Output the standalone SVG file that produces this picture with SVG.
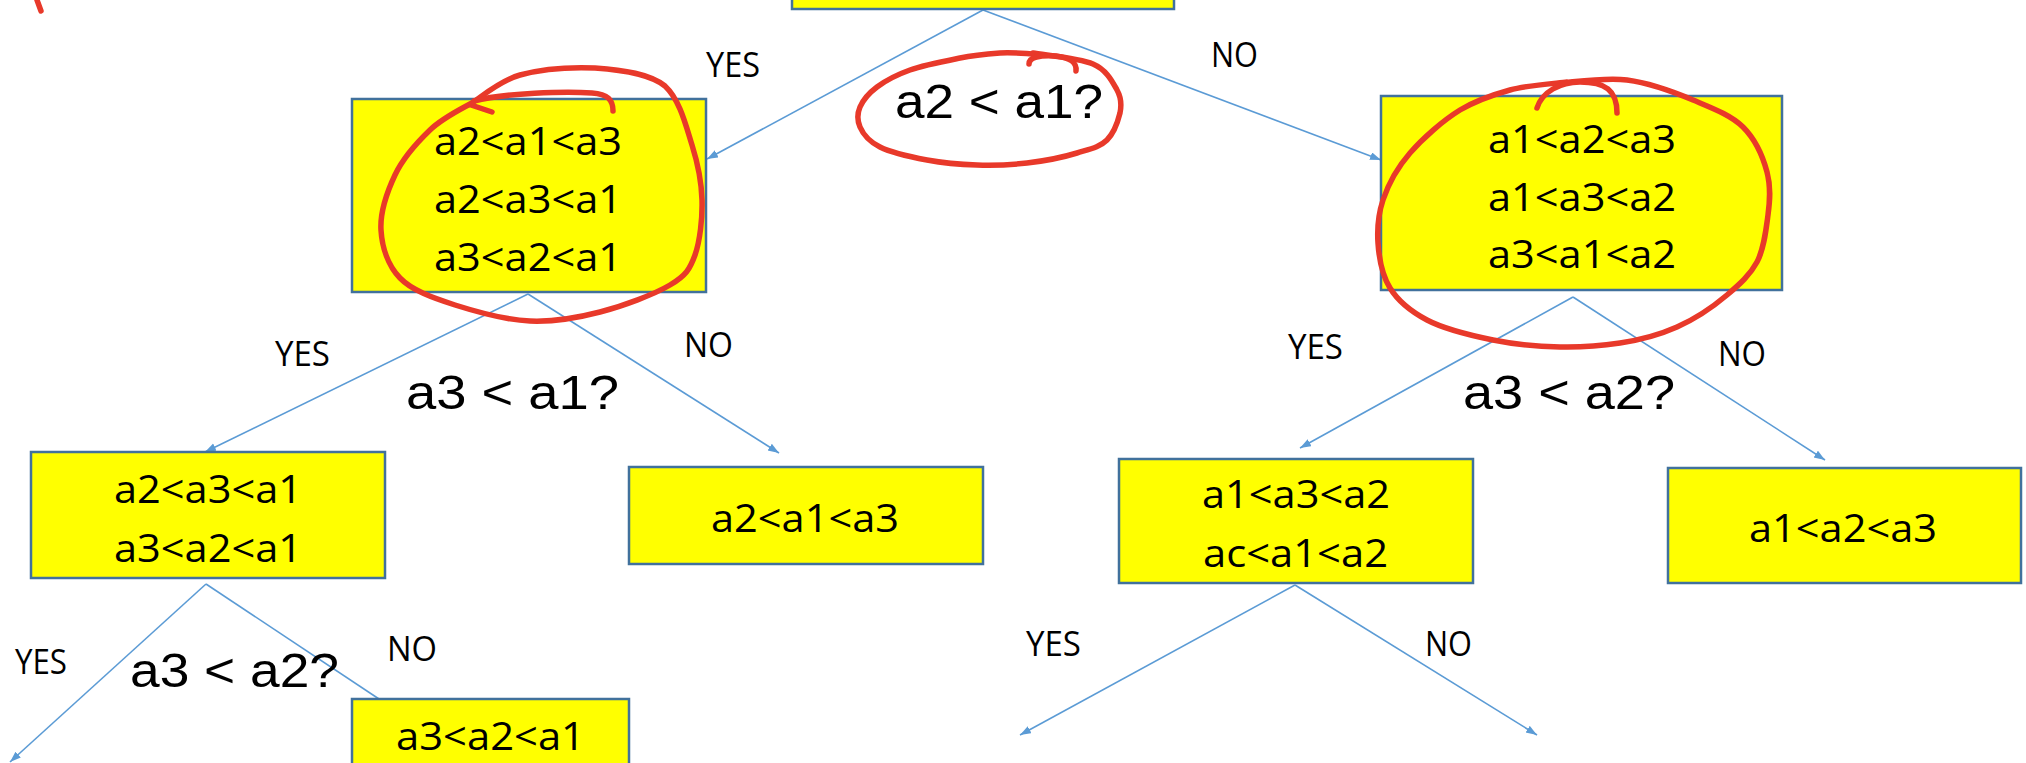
<svg xmlns="http://www.w3.org/2000/svg" width="2026" height="763" viewBox="0 0 2026 763">
  <defs>
    <marker id="arrow" markerUnits="userSpaceOnUse" markerWidth="12" markerHeight="9" refX="11" refY="4" orient="auto">
      <path d="M0,0 L11,4 L0,8 z" fill="#5B9BD5"/>
    </marker>
    <style>
      .box { fill: #FFFF00; stroke: #41719C; stroke-width: 2.5; }
      .edge { fill: none; stroke: #5B9BD5; stroke-width: 1.6; }
      .arrow { marker-end: url(#arrow); }
      .item { font-family: "Open Sans", "Liberation Sans", sans-serif; font-size: 38px; fill: #000; }
      .lbl { font-family: "Open Sans", "Liberation Sans", sans-serif; font-size: 34px; fill: #000; }
      .q { font-family: "Liberation Sans", Arial, sans-serif; font-size: 48px; fill: #000; }
      .ink { fill: none; stroke: #E8392A; stroke-width: 5.5; stroke-linecap: round; stroke-linejoin: round; }
    </style>
  </defs>

  <rect width="2026" height="763" fill="#FFFFFF"/>

  <!-- branches -->
  <g id="connectors">
    <line class="edge arrow" x1="983" y1="10" x2="707" y2="159"/>
    <line class="edge arrow" x1="983" y1="10" x2="1381" y2="160"/>
    <line class="edge arrow" x1="528" y1="294" x2="205" y2="452"/>
    <line class="edge arrow" x1="528" y1="294" x2="779" y2="453"/>
    <line class="edge arrow" x1="1573" y1="297" x2="1300" y2="448"/>
    <line class="edge arrow" x1="1573" y1="297" x2="1825" y2="460"/>
    <line class="edge arrow" x1="206" y1="584" x2="10" y2="762"/>
    <line class="edge" x1="206" y1="584" x2="379" y2="699"/>
    <line class="edge arrow" x1="1295" y1="585" x2="1020" y2="735"/>
    <line class="edge arrow" x1="1295" y1="585" x2="1537" y2="735"/>
  </g>

  <!-- branch labels -->
  <g id="labels">
    <text class="lbl" x="706" y="77" textLength="54" lengthAdjust="spacingAndGlyphs">YES</text>
    <text class="lbl" x="1211" y="67" textLength="47" lengthAdjust="spacingAndGlyphs">NO</text>
    <text class="lbl" x="275" y="366" textLength="55" lengthAdjust="spacingAndGlyphs">YES</text>
    <text class="lbl" x="684" y="357" textLength="49" lengthAdjust="spacingAndGlyphs">NO</text>
    <text class="lbl" x="1288" y="359" textLength="55" lengthAdjust="spacingAndGlyphs">YES</text>
    <text class="lbl" x="1718" y="366" textLength="48" lengthAdjust="spacingAndGlyphs">NO</text>
    <text class="lbl" x="15" y="674" textLength="52" lengthAdjust="spacingAndGlyphs">YES</text>
    <text class="lbl" x="387" y="661" textLength="50" lengthAdjust="spacingAndGlyphs">NO</text>
    <text class="lbl" x="1026" y="656" textLength="55" lengthAdjust="spacingAndGlyphs">YES</text>
    <text class="lbl" x="1425" y="656" textLength="47" lengthAdjust="spacingAndGlyphs">NO</text>
  </g>

  <!-- comparison questions -->
  <g id="questions">
    <text class="q" x="895" y="118" textLength="208" lengthAdjust="spacingAndGlyphs">a2 &lt; a1?</text>
    <text class="q" x="406" y="409" textLength="213" lengthAdjust="spacingAndGlyphs">a3 &lt; a1?</text>
    <text class="q" x="1463" y="409" textLength="212" lengthAdjust="spacingAndGlyphs">a3 &lt; a2?</text>
    <text class="q" x="130" y="687" textLength="209" lengthAdjust="spacingAndGlyphs">a3 &lt; a2?</text>
  </g>

  <!-- nodes -->
  <g id="root">
    <rect class="box" x="792" y="-30" width="382" height="39"/>
  </g>

  <g id="node-left">
    <rect class="box" x="352" y="99" width="354" height="193"/>
    <text class="item" x="434" y="155" textLength="188" lengthAdjust="spacingAndGlyphs">a2&lt;a1&lt;a3</text>
    <text class="item" x="434" y="213" textLength="188" lengthAdjust="spacingAndGlyphs">a2&lt;a3&lt;a1</text>
    <text class="item" x="434" y="271" textLength="188" lengthAdjust="spacingAndGlyphs">a3&lt;a2&lt;a1</text>
  </g>

  <g id="node-right">
    <rect class="box" x="1381" y="96" width="401" height="194"/>
    <text class="item" x="1488" y="153" textLength="188" lengthAdjust="spacingAndGlyphs">a1&lt;a2&lt;a3</text>
    <text class="item" x="1488" y="211" textLength="188" lengthAdjust="spacingAndGlyphs">a1&lt;a3&lt;a2</text>
    <text class="item" x="1488" y="268" textLength="188" lengthAdjust="spacingAndGlyphs">a3&lt;a1&lt;a2</text>
  </g>

  <g id="node-left-yes">
    <rect class="box" x="31" y="452" width="354" height="126"/>
    <text class="item" x="114" y="503" textLength="188" lengthAdjust="spacingAndGlyphs">a2&lt;a3&lt;a1</text>
    <text class="item" x="114" y="562" textLength="188" lengthAdjust="spacingAndGlyphs">a3&lt;a2&lt;a1</text>
  </g>

  <g id="node-left-no">
    <rect class="box" x="629" y="467" width="354" height="97"/>
    <text class="item" x="711" y="532" textLength="188" lengthAdjust="spacingAndGlyphs">a2&lt;a1&lt;a3</text>
  </g>

  <g id="node-right-yes">
    <rect class="box" x="1119" y="459" width="354" height="124"/>
    <text class="item" x="1202" y="508" textLength="188" lengthAdjust="spacingAndGlyphs">a1&lt;a3&lt;a2</text>
    <text class="item" x="1203" y="567" textLength="185" lengthAdjust="spacingAndGlyphs">ac&lt;a1&lt;a2</text>
  </g>

  <g id="node-right-no">
    <rect class="box" x="1668" y="468" width="353" height="115"/>
    <text class="item" x="1749" y="542" textLength="188" lengthAdjust="spacingAndGlyphs">a1&lt;a2&lt;a3</text>
  </g>

  <g id="node-left-yes-no">
    <rect class="box" x="352" y="699" width="277" height="90"/>
    <text class="item" x="396" y="750" textLength="189" lengthAdjust="spacingAndGlyphs">a3&lt;a2&lt;a1</text>
  </g>

  <!-- hand-drawn red pen marks -->
  <g id="annotations">
    <path class="ink" d="M37,0 L41,11"/>
    <!-- loop round the first question -->
    <path class="ink" d="M1033,53 C1043,55 1079,58 1093,64 C1107,70 1112.5,82 1117,90 C1121.5,98 1121.7,104.7 1120,113 C1118,121 1114,133 1107,140 C1100,147 1090,149 1077,153 C1064,157 1044,161 1027,163 C1010,165 994,165.5 977,165 C960,164.5 943,163 927,160 C911,157 891,152.5 880,147 C869,141.5 863,134 860,127 C857,120 857,114 860,107 C863,100 869,93 877,87 C885,81 896,75 910,70 C924,65 945,61 960,58 C975,55 987.5,54 1000,53 C1012.5,52 1029,54 1035,54"/>
    <path class="ink" d="M1029,64 C1029,57 1040,55 1056,56 C1070,58 1077,62 1076,71"/>
    <!-- loop round the left subset -->
    <path class="ink" d="M470,104 C478,100 498,81 520,75 C542,69 570,67 595,68 C624,70 650,74 665,86 C680,100 686,126 692,145 C698,164 701.5,182 702,200 C702.5,218 700,241 695,255 C690,269 686,275.5 670,285 C654,294.5 623,306 600,312 C577,318 554,322 530,321 C506,320 477,312 455,305 C433,298 412,290.5 400,278 C388,265.5 382,247 381,230 C380,213 387,192 395,175 C403,158 417.5,142 430,130 C442.5,118 463,108 470,104"/>
    <path class="ink" d="M613,111 C613,100 608,94 592,93 C565,91 505,93 474,101 L471,105 L492,112"/>
    <!-- loop round the right subset -->
    <path class="ink" d="M1560,83 C1571,82.5 1605,77 1627,80 C1649,83 1674,92 1693,100 C1712,108 1731,115 1743,127 C1755,139 1763,157 1767,172 C1771,187 1770,200 1768,215 C1766,230 1764,249 1757,262 C1750,275 1740,284 1727,295 C1714,306 1695,319 1677,327 C1659,335 1640,340 1620,343 C1600,346 1581,347.5 1560,347 C1539,346.5 1515,344.5 1493,340 C1471,335.5 1444,329 1427,320 C1410,311 1398,301 1390,288 C1382,275 1379,258 1378,243 C1377,228 1378,215 1383,200 C1388,185 1397,168 1410,153 C1423,138 1443,120.5 1460,110 C1477,100 1492,95 1510,90 C1528,85 1557.5,83.3 1567,82"/>
    <path class="ink" d="M1537,108 C1542,92 1560,82 1580,82 C1605,82 1617,90 1617,113"/>
  </g>
</svg>
